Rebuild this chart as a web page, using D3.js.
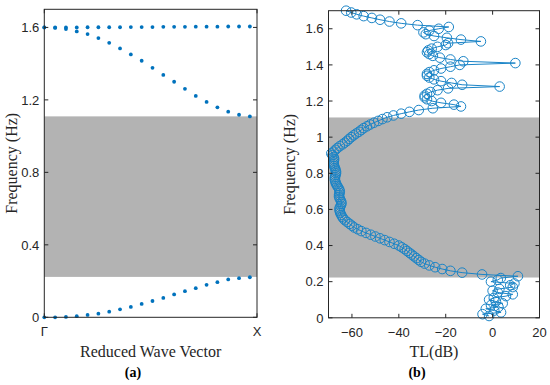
<!DOCTYPE html>
<html><head><meta charset="utf-8">
<script src="https://cdn.jsdelivr.net/npm/d3@7"></script>
<style>body{margin:0;background:#fff}</style>
</head><body>
<script>
// ---------- Data ----------
const waveVector = [0,0.05,0.10,0.15,0.20,0.25,0.30,0.35,0.40,0.45,0.50,0.55,0.60,0.65,0.70,0.75,0.80,0.85,0.90,0.95];
const branchLow  = [0,0,0.002,0.006,0.013,0.020,0.031,0.044,0.057,0.074,0.090,0.107,0.126,0.144,0.161,0.179,0.194,0.209,0.216,0.221];
const branchFlat = [1.600,1.600,1.600,1.600,1.601,1.601,1.601,1.601,1.602,1.602,1.602,1.603,1.603,1.603,1.604,1.604,1.604,1.605,1.605,1.605];
const branchDesc = [1.600,1.597,1.591,1.578,1.563,1.541,1.515,1.484,1.451,1.416,1.377,1.338,1.300,1.261,1.222,1.189,1.159,1.135,1.118,1.109];
const bandGap = [0.223, 1.109];
const xTickLabelsA = ["Γ", "X"];
const yTicksA = [0, 0.4, 0.8, 1.2, 1.6];
const xTicksB = [-60, -40, -20, 0, 20];
const yTicksB = [0, 0.2, 0.4, 0.6, 0.8, 1, 1.2, 1.4, 1.6];

const freq = [0.01,0.02,0.03,0.04,0.05,0.06,0.07,0.08,0.09,0.10,
0.11,0.12,0.13,0.14,0.15,0.16,0.17,0.18,0.19,0.20,
0.21,0.22,0.23,0.24,0.25,0.26,0.27,0.28,0.29,0.30,
0.31,0.32,0.33,0.34,0.35,0.36,0.37,0.38,0.39,0.40,
0.41,0.42,0.43,0.44,0.45,0.46,0.47,0.48,0.49,0.50,
0.51,0.52,0.53,0.54,0.55,0.56,0.57,0.58,0.59,0.60,
0.61,0.62,0.63,0.64,0.65,0.66,0.67,0.68,0.69,0.70,
0.71,0.72,0.73,0.74,0.75,0.76,0.77,0.78,0.79,0.80,
0.81,0.82,0.83,0.84,0.85,0.86,0.87,0.88,0.89,0.90,
0.91,0.92,0.93,0.94,0.95,0.96,0.97,0.98,0.99,1.00,
1.01,1.02,1.03,1.04,1.05,1.06,1.07,1.08,1.09,1.10,
1.11,1.12,1.13,1.14,1.15,1.16,1.17,1.18,1.19,1.20,
1.21,1.22,1.23,1.24,1.25,1.26,1.27,1.28,1.29,1.30,
1.31,1.32,1.33,1.34,1.35,1.36,1.37,1.38,1.39,1.40,
1.41,1.42,1.43,1.44,1.45,1.46,1.47,1.48,1.49,1.50,
1.51,1.52,1.53,1.54,1.55,1.56,1.57,1.58,1.59,1.60,
1.61,1.62,1.63,1.64,1.65,1.66,1.67,1.68,1.69,1.70];
const tl = [-1.5,-4.3,3.6,0.7,-2.9,2.5,-0.7,4.3,1.4,-1.5,
0.5,5.7,8.6,2.2,0.0,2.9,8.6,7.5,9.3,-0.7,
2.2,3.5,10.8,-4.5,-13,-18,-21.5,-24.5,-27,-29,
-30.5,-31.5,-32.5,-33.5,-34.5,-35.5,-36.5,-37.5,-38.7,-40,
-42,-44,-46,-48,-50,-52,-54,-56,-57.5,-59,
-60,-61,-62,-63,-63.7,-64.2,-64.6,-65,-65.2,-65.3,
-65.2,-64.8,-64.5,-64.5,-64.8,-65.2,-65.5,-65.5,-65.3,-65.2,
-65.4,-65.8,-66.3,-66.7,-67,-67.2,-67.3,-67.2,-67,-66.8,
-66.8,-67,-67.3,-67.6,-67.8,-67.8,-67.7,-67.6,-67.8,-68.3,
-68.8,-67.8,-67,-66.2,-65.2,-64,-63,-62,-61.2,-60.3,
-59.3,-58.2,-57,-56,-55,-53.6,-52.2,-50.6,-48.8,-47,
-45,-42.3,-39,-35.5,-31.5,-25.5,-13.5,-16.5,-22,-26,
-28,-29,-29,-28,-26.5,-23.5,-19,3,-13,-17.5,
-22,-25,-27,-28,-28,-27,-25,-22,-18,-14,
9.7,-12.5,-18,-22.5,-25.5,-27,-28,-27.5,-26,-23.5,
-20,-19,-5,-13.5,-19.5,-25,-28.5,-29.5,-27,-23,
-18.7,-32,-39,-44,-48,-51.5,-55,-58,-60.3,-62.5];

// ---------- Drawing ----------
const W = 550, H = 385;
const axisColor = "#262626", gray = "#b3b3b3", blue = "#0072BD", blueB = "#1a84c7";
const sansFont = "'Liberation Sans', Arial, sans-serif";
const serifFont = "'Liberation Serif', 'Times New Roman', serif";

const svg = d3.select("body").append("svg").attr("width", W).attr("height", H)
  .style("background", "#fff");

function boxAxes(g, x, y, xTicks, xFmt, yTicks, yFmt) {
  const [xa, xb] = x.range(), [yb, ya] = y.range();
  const t = 4;
  const ax = g.append("g").attr("stroke", axisColor).attr("stroke-width", 1).attr("fill", "none");
  ax.append("rect").attr("x", xa).attr("y", ya).attr("width", xb - xa).attr("height", yb - ya);
  xTicks.forEach(v => {
    const px = x(v);
    ax.append("line").attr("x1", px).attr("x2", px).attr("y1", yb).attr("y2", yb - t);
    ax.append("line").attr("x1", px).attr("x2", px).attr("y1", ya).attr("y2", ya + t);
  });
  yTicks.forEach(v => {
    const py = y(v);
    ax.append("line").attr("x1", xa).attr("x2", xa + t).attr("y1", py).attr("y2", py);
    ax.append("line").attr("x1", xb).attr("x2", xb - t).attr("y1", py).attr("y2", py);
  });
  const tx = g.append("g").attr("font-family", sansFont).attr("font-size", 13).attr("fill", axisColor);
  xTicks.forEach((v, i) => {
    tx.append("text").attr("x", x(v)).attr("y", yb + 19).attr("text-anchor", "middle").text(xFmt(v, i));
  });
  yTicks.forEach((v, i) => {
    tx.append("text").attr("x", xa - 5).attr("y", y(v) + 4.7).attr("text-anchor", "end").text(yFmt(v, i));
  });
}

// ----- Panel (a) -----
const xA = d3.scaleLinear().domain([0, 0.983]).range([44.3, 257]);
const yA = d3.scaleLinear().domain([0, 1.7]).range([317.3, 9.3]);
const gA = svg.append("g");
gA.append("rect").attr("x", xA(0)).attr("width", xA(0.983) - xA(0))
  .attr("y", yA(bandGap[1])).attr("height", yA(bandGap[0]) - yA(bandGap[1])).attr("fill", gray);
[branchLow, branchFlat, branchDesc].forEach(br => {
  gA.append("g").selectAll("circle").data(waveVector).join("circle")
    .attr("cx", d => xA(d)).attr("cy", (d, i) => yA(br[i])).attr("r", 1.9).attr("fill", blue);
});
boxAxes(gA, xA, yA, [0, 0.983], (v, i) => xTickLabelsA[i], yTicksA, v => d3.format("")(v));
const cyA = (yA.range()[0] + yA.range()[1]) / 2;
gA.append("text").attr("transform", `translate(11,${cyA}) rotate(-90)`)
  .attr("font-family", serifFont).attr("font-size", 16).attr("fill", axisColor).attr("text-anchor", "middle")
  .attr("dominant-baseline", "central").text("Frequency (Hz)");
gA.append("text").attr("x", (xA.range()[0] + xA.range()[1]) / 2).attr("y", 357)
  .attr("font-family", serifFont).attr("font-size", 16).attr("fill", axisColor).attr("text-anchor", "middle")
  .text("Reduced Wave Vector");
gA.append("text").attr("x", 133).attr("y", 377)
  .attr("font-family", serifFont).attr("font-size", 14).attr("font-weight", "bold").attr("fill", "#000").attr("text-anchor", "middle")
  .text("(a)");

// ----- Panel (b) -----
const xB = d3.scaleLinear().domain([-70, 20]).range([328.5, 539.5]);
const yB = d3.scaleLinear().domain([0, 1.7]).range([317.8, 10.7]);
const gB = svg.append("g");
gB.append("rect").attr("x", xB(-70)).attr("width", xB(20) - xB(-70))
  .attr("y", yB(bandGap[1])).attr("height", yB(bandGap[0]) - yB(bandGap[1])).attr("fill", gray);
const pts = freq.map((f, i) => [tl[i], f]);
gB.append("path").datum(pts)
  .attr("d", d3.line().x(d => xB(d[0])).y(d => yB(d[1])))
  .attr("fill", "none").attr("stroke", blueB).attr("stroke-width", 1);
gB.append("g").selectAll("circle").data(pts).join("circle")
  .attr("cx", d => xB(d[0])).attr("cy", d => yB(d[1])).attr("r", 4.8)
  .attr("fill", "none").attr("stroke", blueB).attr("stroke-width", 1);
boxAxes(gB, xB, yB, xTicksB, v => (v < 0 ? "\u2212" + Math.abs(v) : String(v)), yTicksB, v => d3.format("")(v));
const cyB = (yB.range()[0] + yB.range()[1]) / 2;
gB.append("text").attr("transform", `translate(289,${cyB}) rotate(-90)`)
  .attr("font-family", serifFont).attr("font-size", 16).attr("fill", axisColor).attr("text-anchor", "middle")
  .attr("dominant-baseline", "central").text("Frequency (Hz)");
gB.append("text").attr("x", (xB.range()[0] + xB.range()[1]) / 2).attr("y", 357)
  .attr("font-family", serifFont).attr("font-size", 16).attr("fill", axisColor).attr("text-anchor", "middle")
  .text("TL(dB)");
gB.append("text").attr("x", 417).attr("y", 377)
  .attr("font-family", serifFont).attr("font-size", 14).attr("font-weight", "bold").attr("fill", "#000").attr("text-anchor", "middle")
  .text("(b)");
</script>
</body></html>
